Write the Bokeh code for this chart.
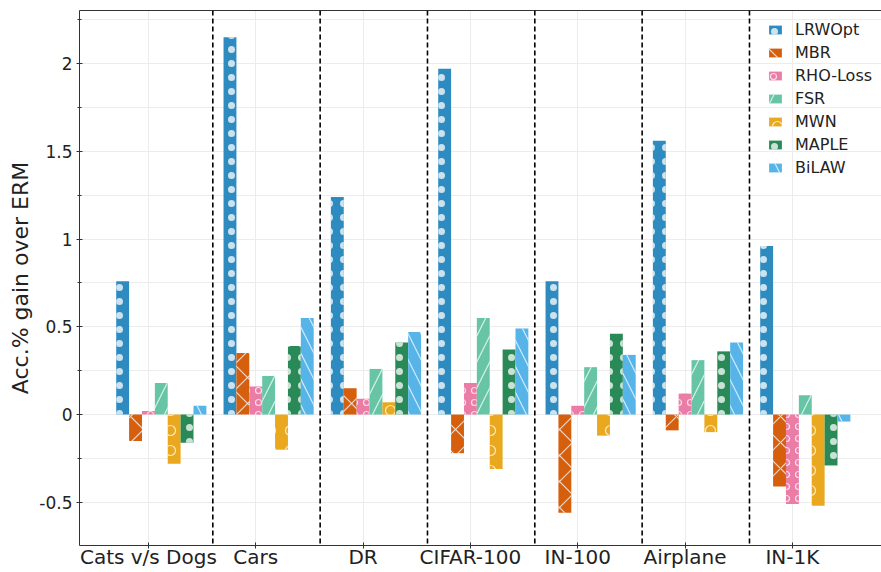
from bokeh.plotting import figure
from bokeh.models import (ColumnDataSource, FixedTicker, Legend, LegendItem, Span,
                          LinearAxis, Range1d)
from bokeh.transform import dodge
from bokeh.embed import file_html
from bokeh.resources import INLINE

# ---------------- data ----------------
categories = ["Cats v/s Dogs", "Cars", "DR", "CIFAR-100", "IN-100", "Airplane", "IN-1K"]
methods = ["LRWOpt", "MBR", "RHO-Loss", "FSR", "MWN", "MAPLE", "BiLAW"]

lrwopt = [0.76, 2.15, 1.24, 1.97, 0.76, 1.56, 0.96]
mbr = [-0.15, 0.35, 0.15, -0.22, -0.56, -0.09, -0.41]
rho_loss = [0.02, 0.16, 0.09, 0.18, 0.05, 0.12, -0.51]
fsr = [0.18, 0.22, 0.26, 0.55, 0.27, 0.31, 0.11]
mwn = [-0.28, -0.20, 0.07, -0.31, -0.12, -0.10, -0.52]
maple = [-0.16, 0.39, 0.41, 0.37, 0.46, 0.36, -0.29]
bilaw = [0.05, 0.55, 0.47, 0.49, 0.34, 0.41, -0.04]

y_ticks = [-0.5, 0, 0.5, 1, 1.5, 2]
y_tick_labels = ["-0.5", "0", "0.5", "1", "1.5", "2"]
y_minor_ticks = [-0.75, -0.5, -0.25, 0, 0.25, 0.5, 0.75, 1, 1.25, 1.5, 1.75, 2, 2.25]

series = [lrwopt, mbr, rho_loss, fsr, mwn, maple, bilaw]
colors = ["#2e8bc0", "#d65f0e", "#ea7ca6", "#67c5a6", "#e9a81d", "#2a8a57", "#56b4e9"]
hatches = ["dot", "diagonal_cross", "ring", "right_diagonal_line", "ring", "dot", "left_diagonal_line"]
hatch_scales = [14, 26, 12, 26, 20, 14, 26]

src = ColumnDataSource(dict(x=list(range(len(categories))),
                            **{m: v for m, v in zip(methods, series)}))

FONT = "DejaVu Sans"
bar_w = 0.12

p = figure(width=881, height=572, output_backend="svg", toolbar_location=None,
           x_range=Range1d(-0.642, 6.83), y_range=Range1d(-0.746, 2.302),
           min_border_left=79, min_border_right=0, min_border_top=10, min_border_bottom=27)
p.outline_line_color = None
p.background_fill_color = "white"

renderers = []
for i, m in enumerate(methods):
    r = p.vbar(x=dodge("x", (i - 2) * bar_w), top=m, width=bar_w, bottom=0, source=src,
               fill_color=colors[i], line_color=None,
               hatch_pattern=hatches[i], hatch_color="white", hatch_alpha=0.75,
               hatch_scale=hatch_scales[i], hatch_weight=1.2)
    renderers.append(r)

# group separators
for i in range(len(categories) - 1):
    p.add_layout(Span(location=i + 0.6, dimension="height", line_color="black",
                      line_width=1.6, line_dash="5 3"))

# axes
xa = p.xaxis[0]
xa.ticker = FixedTicker(ticks=list(range(len(categories))))
xa.major_label_overrides = {i: c for i, c in enumerate(categories)}
xa.major_label_text_font = FONT
xa.major_label_text_font_size = "20px"
xa.major_label_text_color = "#222222"
xa.major_label_standoff = -4
xa.major_tick_in = 3
xa.major_tick_out = 3
xa.minor_tick_line_color = None
xa.axis_line_color = "#333333"
xa.major_tick_line_color = "#333333"

ya = p.yaxis[0]
ya.ticker = FixedTicker(ticks=y_ticks, minor_ticks=y_minor_ticks)
ya.major_label_overrides = {t: l for t, l in zip(y_ticks, y_tick_labels)}
ya.major_label_text_font = FONT
ya.major_label_text_font_size = "17px"
ya.major_label_text_color = "#222222"
ya.major_label_standoff = 4
ya.major_tick_in = 3
ya.major_tick_out = 3
ya.minor_tick_in = 2
ya.minor_tick_out = 2
ya.axis_line_color = "#333333"
ya.major_tick_line_color = "#333333"
ya.minor_tick_line_color = "#333333"
ya.axis_label = "Acc.% gain over ERM"
ya.axis_label_text_font = FONT
ya.axis_label_text_font_size = "22px"
ya.axis_label_text_font_style = "normal"
ya.axis_label_text_color = "#222222"
ya.axis_label_standoff = 3

top_axis = LinearAxis(ticker=FixedTicker(ticks=[]), major_label_text_font_size="0px",
                      major_tick_in=0, major_tick_out=0, minor_tick_in=0, minor_tick_out=0,
                      major_label_standoff=0, axis_line_color="#333333")
p.add_layout(top_axis, "above")

# grid
p.xgrid.grid_line_color = "#ececec"
p.xgrid.ticker = FixedTicker(ticks=list(range(len(categories))))
p.ygrid.grid_line_color = "#ececec"
p.ygrid.minor_grid_line_color = "#ececec"

legend = Legend(items=[LegendItem(label=m, renderers=[r]) for m, r in zip(methods, renderers)],
                location=(682, 362), glyph_width=16, glyph_height=11, label_standoff=12,
                spacing=3, padding=6, margin=0, label_height=20,
                label_text_font=FONT, label_text_font_size="16px", label_text_color="#222222",
                background_fill_alpha=0, border_line_alpha=0)
p.add_layout(legend)

open("out.html", "w").write(file_html(p, INLINE))
